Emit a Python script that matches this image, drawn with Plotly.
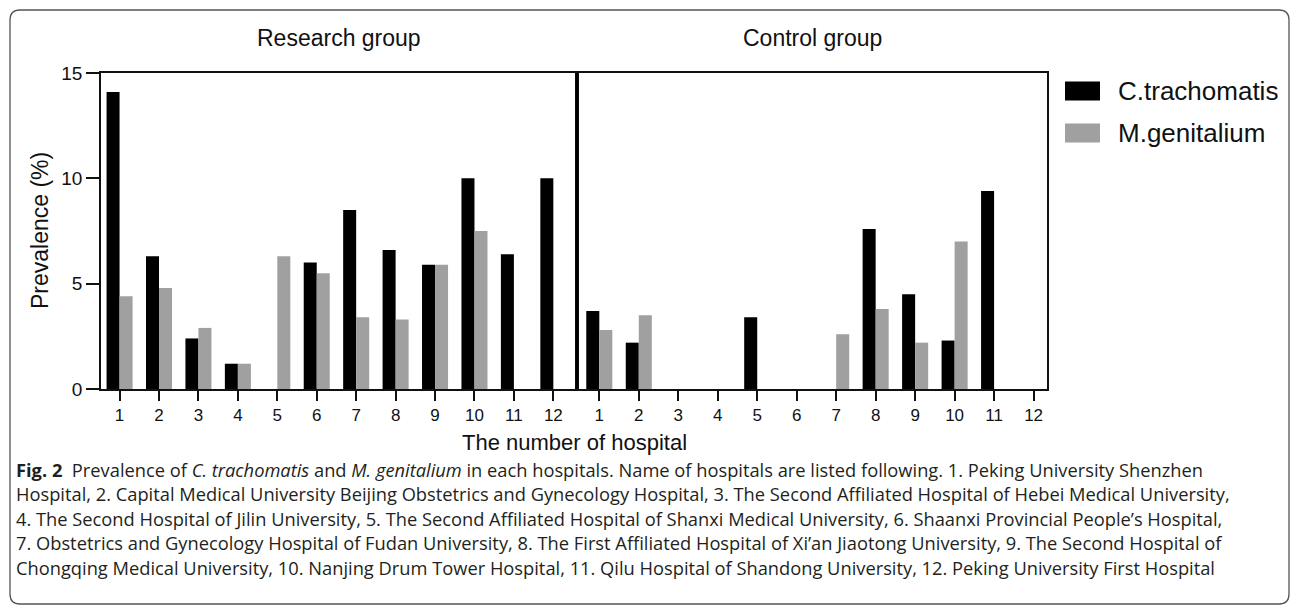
import plotly.graph_objects as go

# ---------------- data ----------------
hospitals = list(range(1, 13))
tick_labels = [str(h) for h in hospitals]
research_ct = [14.1, 6.3, 2.4, 1.2, 0, 6.0, 8.5, 6.6, 5.9, 10.0, 6.4, 10.0]
research_mg = [4.4, 4.8, 2.9, 1.2, 6.3, 5.5, 3.4, 3.3, 5.9, 7.5, 0, 0]
control_ct = [3.7, 2.2, 0, 0, 3.4, 0, 0, 7.6, 4.5, 2.3, 9.4, 0]
control_mg = [2.8, 3.5, 0, 0, 0, 0, 2.6, 3.8, 2.2, 7.0, 0, 0]
series_names = ["C.trachomatis", "M.genitalium"]
group_titles = ["Research group", "Control group"]
caption_lines = [
    "<b>Fig. 2</b>\u00a0\u00a0Prevalence of <i>C. trachomatis</i> and <i>M. genitalium</i> in each hospitals. Name of hospitals are listed following. 1. Peking University Shenzhen",
    "Hospital, 2. Capital Medical University Beijing Obstetrics and Gynecology Hospital, 3. The Second Affiliated Hospital of Hebei Medical University,",
    "4. The Second Hospital of Jilin University, 5. The Second Affiliated Hospital of Shanxi Medical University, 6. Shaanxi Provincial People\u2019s Hospital,",
    "7. Obstetrics and Gynecology Hospital of Fudan University, 8. The First Affiliated Hospital of Xi\u2019an Jiaotong University, 9. The Second Hospital of",
    "Chongqing Medical University, 10. Nanjing Drum Tower Hospital, 11. Qilu Hospital of Shandong University, 12. Peking University First Hospital",
]

# ---------------- style ----------------
W, H = 1293, 607
L, R, T, B = 101, 1047, 73, 389
PW, PH = R - L, B - T
BLACK = "#000000"
GRAY = "#a0a0a0"
FONT = "Liberation Sans, Arial, sans-serif"
CAP_FONT = "Open Sans, Noto Sans, sans-serif"
split = (577 - L) / PW


def px(x):
    return (x - L) / PW


def py(y):
    return 1 - (y - T) / PH


fig = go.Figure()
colors = [BLACK, GRAY]
for xa, vals_list in (("x", [research_ct, research_mg]), ("x2", [control_ct, control_mg])):
    for name, vals, col in zip(series_names, vals_list, colors):
        fig.add_trace(go.Bar(
            x=hospitals, y=vals, name=name, xaxis=xa, yaxis="y" if xa == "x" else "y2",
            marker=dict(color=col, line=dict(width=0)), showlegend=False,
        ))

axis_common = dict(
    tickmode="array", tickvals=hospitals, ticktext=tick_labels,
    ticks="outside", ticklen=10, tickwidth=1.5, tickcolor="#111",
    showline=True, linewidth=1.5, linecolor="#111", mirror=True,
    showgrid=False, zeroline=False,
    tickfont=dict(family=FONT, size=17, color="#111"),
)

fig.update_layout(
    width=W, height=H,
    margin=dict(l=L, r=W - R, t=T, b=H - B, pad=0),
    paper_bgcolor="white", plot_bgcolor="white",
    barmode="group", bargap=0.34, bargroupgap=0,
    xaxis=dict(domain=[0, split], range=[0.529, 12.60], anchor="y", **axis_common),
    xaxis2=dict(domain=[split, 1], range=[0.435, 12.34], anchor="y2", **axis_common),
    yaxis=dict(range=[0, 15], tickvals=[0, 5, 10, 15], ticks="outside", ticklen=13,
               tickwidth=1.5, tickcolor="#111", showline=True, linewidth=1.5,
               linecolor="#111", mirror=True, showgrid=False, zeroline=False,
               tickfont=dict(family=FONT, size=19, color="#111"), anchor="x"),
    yaxis2=dict(range=[0, 15], matches="y", showticklabels=False, ticks="",
                showline=True, linewidth=1.5, linecolor="#111", mirror=True,
                showgrid=False, zeroline=False, anchor="x2"),
    font=dict(family=FONT, color="#111"),
)

shapes = []
# divider between groups
shapes.append(dict(type="line", xref="paper", yref="paper", x0=split, x1=split, y0=0, y1=1,
                   line=dict(color="#000", width=2.5)))
# rounded frame
x0, y0, x1, y1, r = 10, 10, 1289, 604, 10
path = (f"M {px(x0 + r)},{py(y0)} L {px(x1 - r)},{py(y0)} Q {px(x1)},{py(y0)} {px(x1)},{py(y0 + r)} "
        f"L {px(x1)},{py(y1 - r)} Q {px(x1)},{py(y1)} {px(x1 - r)},{py(y1)} "
        f"L {px(x0 + r)},{py(y1)} Q {px(x0)},{py(y1)} {px(x0)},{py(y1 - r)} "
        f"L {px(x0)},{py(y0 + r)} Q {px(x0)},{py(y0)} {px(x0 + r)},{py(y0)} Z")
shapes.append(dict(type="path", xref="paper", yref="paper", path=path,
                   line=dict(color="#555", width=1.3), layer="below"))
# legend swatches
for i, col in enumerate(colors):
    cy = 91 + 42 * i
    shapes.append(dict(type="rect", xref="paper", yref="paper",
                       x0=px(1065), x1=px(1100), y0=py(cy - 9.5), y1=py(cy + 9.5),
                       fillcolor=col, line=dict(width=0)))
fig.update_layout(shapes=shapes)

ann = []
for i, name in enumerate(series_names):
    ann.append(dict(xref="paper", yref="paper", x=px(1116), y=py(91 + 42 * i), text=name,
                    showarrow=False, xanchor="left", yanchor="middle",
                    font=dict(family=FONT, size=26, color="#111")))
for title, cx in zip(group_titles, [(L + 577) / 2, (577 + R) / 2]):
    ann.append(dict(xref="paper", yref="paper", x=px(cx), y=py(38), text=title,
                    showarrow=False, xanchor="center", yanchor="middle",
                    font=dict(family=FONT, size=23, color="#111")))
ann.append(dict(xref="paper", yref="paper", x=px(574), y=py(442), text="The number of hospital",
                showarrow=False, xanchor="center", yanchor="middle",
                font=dict(family=FONT, size=22, color="#111")))
ann.append(dict(xref="paper", yref="paper", x=px(40), y=py(231), text="Prevalence (%)",
                showarrow=False, xanchor="center", yanchor="middle", textangle=-90,
                font=dict(family=FONT, size=23, color="#111")))
for i, line in enumerate(caption_lines):
    ann.append(dict(xref="paper", yref="paper", x=px(14), y=py(469 + 24.5 * i), text=line,
                    showarrow=False, xanchor="left", yanchor="middle",
                    font=dict(family=CAP_FONT, size=18.3, color="#231f20")))
fig.update_layout(annotations=ann)

fig.write_html("out.html", config={"displayModeBar": False},
               post_script="document.body.style.margin='0px';")
